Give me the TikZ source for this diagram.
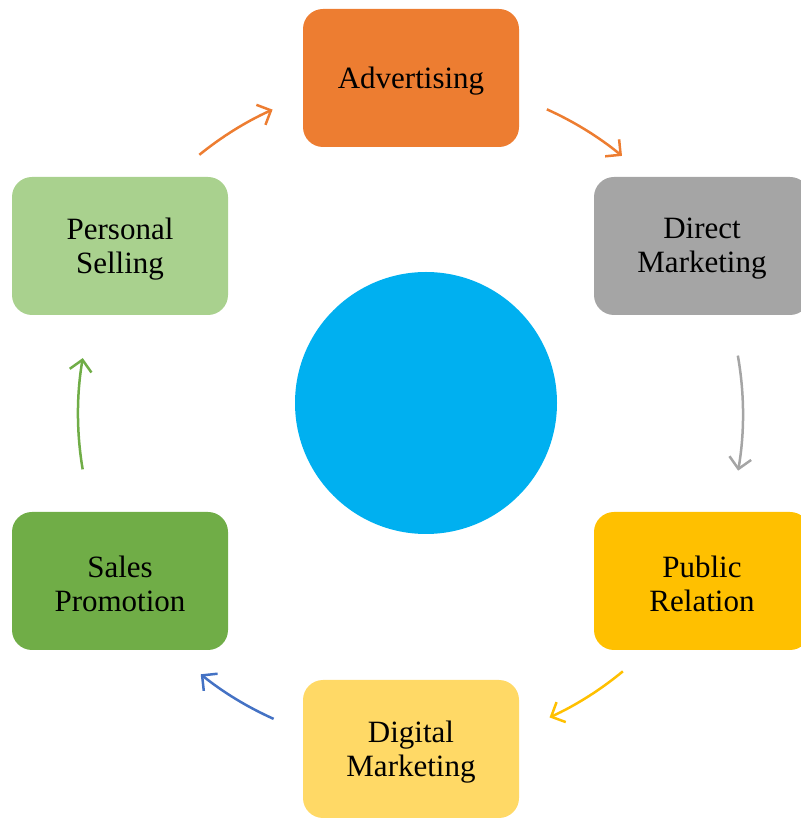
\documentclass[tikz,border=0pt]{standalone}
\usepackage{fontspec}
\setmainfont{Liberation Serif}
\usetikzlibrary{arrows.meta}
\definecolor{cOrange}{HTML}{ED7D31}
\definecolor{cGray}{HTML}{A5A5A5}
\definecolor{cGold}{HTML}{FFC000}
\definecolor{cLightGold}{HTML}{FFD966}
\definecolor{cGreen}{HTML}{70AD47}
\definecolor{cLightGreen}{HTML}{A9D18E}
\definecolor{cBlue}{HTML}{4472C4}
\definecolor{cCyan}{HTML}{00B0F0}
\tikzset{
  stage/.style={rounded corners=20pt, minimum width=216pt, minimum height=138pt,
    inner sep=0pt},
  stagetext/.style={align=center, font=\fontsize{31}{34}\selectfont, text=black, inner sep=0pt, yshift=-3pt},
  cyc/.style={line width=2.5pt, -{Straight Barb[length=11pt,width=22pt,line width=2.5pt]}}
}
\begin{document}
\begin{tikzpicture}[x=1pt,y=1pt]
\useasboundingbox (0,0) rectangle (801,820);
\coordinate (hub) at (410,406);
\node[fill=cCyan, circle, minimum size=262pt, inner sep=0pt] (core) at (426,417) {};
\node[stage, fill=cOrange, label={[stagetext]center:Advertising}] (adv) at (411,742) {};
\node[stage, fill=cGray, label={[stagetext]center:Direct\\Marketing}] (dm) at (702,574) {};
\node[stage, fill=cGold, label={[stagetext]center:Public\\Relation}] (pr) at (702,239) {};
\node[stage, fill=cLightGold, label={[stagetext]center:Digital\\Marketing}] (dig) at (411,71) {};
\node[stage, fill=cGreen, label={[stagetext]center:Sales\\Promotion}] (sp) at (120,239) {};
\node[stage, fill=cLightGreen, label={[stagetext]center:Personal\\Selling}] (ps) at (120,574) {};
\draw[cyc, cOrange] ([shift={(129.1:334)}]hub) arc[start angle=129.1, end angle=114.3, radius=334];
\draw[cyc, cOrange] ([shift={(65.8:334)}]hub) arc[start angle=65.8, end angle=50.6, radius=334];
\draw[cyc, cGray] ([shift={(10.1:333)}]hub) arc[start angle=10.1, end angle=-9.8, radius=333];
\draw[cyc, cGold] ([shift={(-50.4:334)}]hub) arc[start angle=-50.4, end angle=-65.3, radius=334];
\draw[cyc, cBlue] ([shift={(-114.1:334)}]hub) arc[start angle=-114.1, end angle=-128.8, radius=334];
\draw[cyc, cGreen] ([shift={(189.6:332)}]hub) arc[start angle=189.6, end angle=170.3, radius=332];
\end{tikzpicture}
\end{document}
